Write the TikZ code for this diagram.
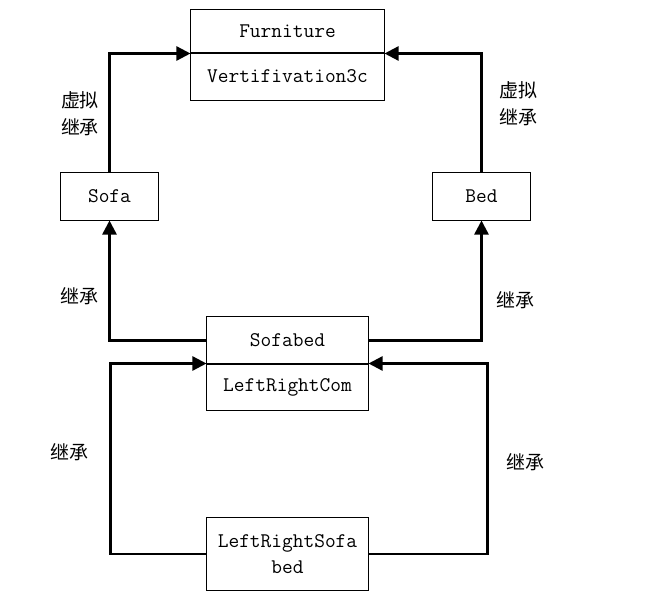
\documentclass[tikz,border=0pt]{standalone}
\usepackage{fontspec}
\newfontfamily\cjk{Noto Sans CJK SC}
\usetikzlibrary{arrows.meta}
\begin{document}
\begin{tikzpicture}[x=0.025cm, y=-0.025cm, every node/.style={font=\ttfamily\fontsize{14.8}{18}\selectfont},
  cls/.style={draw,line width=0.7pt,inner sep=0pt,align=center},
  inh/.style={line width=1.7pt,-{Triangle[length=10pt,width=10pt]}},
  lbl/.style={align=center,font=\cjk\fontsize{13.5}{19}\selectfont}]
\useasboundingbox (0,0) rectangle (647,603);
\node[cls,minimum width=4.825cm,minimum height=1.075cm] (fur) at (287.5,31.5) {Furniture};
\node[cls,minimum width=4.825cm,minimum height=1.175cm] (furv) at (287.5,76.5) {Vertifivation3c};
\node[cls,minimum width=2.425cm,minimum height=1.175cm] (sofa) at (109.5,196.5) {Sofa};
\node[cls,minimum width=2.425cm,minimum height=1.175cm] (bed) at (481.5,196.5) {Bed};
\node[cls,minimum width=4.025cm,minimum height=1.175cm] (sb) at (287.5,340.5) {Sofabed};
\node[cls,minimum width=4.025cm,minimum height=1.15cm] (sbv) at (287.5,387) {LeftRightCom};
\node[cls,minimum width=4.025cm,minimum height=1.8cm] (lrs) at (287.5,554) {LeftRightSofa\\bed};
% virtual inheritance
\draw[inh] (sofa.north) |- (fur.south west);
\draw[inh] (bed.north) |- (fur.south east);
\node[lbl] (vl) at (80,114) {虚拟\\继承};
\node[lbl] (vr) at (518,104) {虚拟\\继承};
% Sofabed
\draw[inh] (sb.west) -| (sofa.south);
\draw[inh] (sb.east) -| (bed.south);
\node[lbl] (il) at (79,296) {继承};
\node[lbl] (ir) at (515,300) {继承};
% LeftRightSofabed
\draw[inh] (lrs.west) -- ++(-96,0) |- (sbv.north west);
\draw[inh] (lrs.east) -- ++(119,0) |- (sbv.north east);
\node[lbl] (jl) at (69,452) {继承};
\node[lbl] (jr) at (525,462) {继承};
\end{tikzpicture}
\end{document}
